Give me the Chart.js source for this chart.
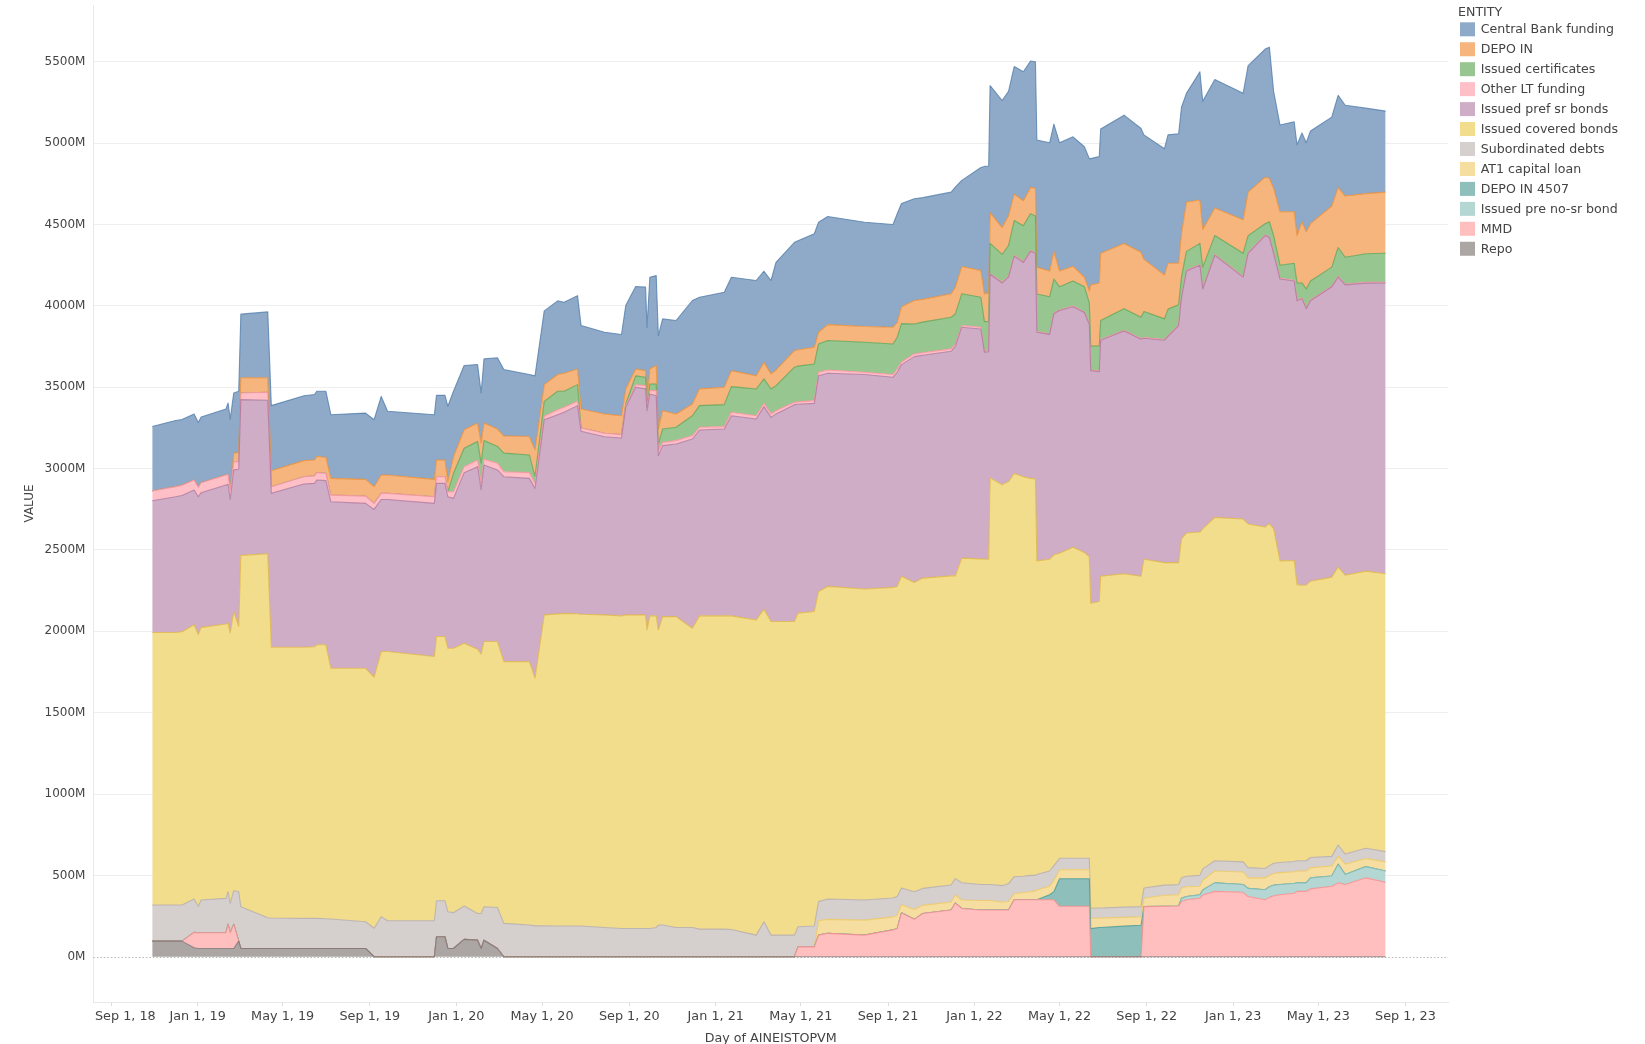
<!DOCTYPE html>
<html>
<head>
<meta charset="utf-8">
<script src="https://cdn.jsdelivr.net/npm/chart.js@4.4.1/dist/chart.umd.min.js"></script>
<style>
html,body{margin:0;padding:0;background:#fff;}
canvas{display:block;}
</style>
</head>
<body>
<canvas id="c" width="1645" height="1044"></canvas>
<script>
// ---- DATA (values in millions) ----
const dates = [
'2018-10-29','2018-12-01','2018-12-10','2018-12-27','2019-01-02','2019-01-06','2019-02-10','2019-02-13','2019-02-16','2019-02-21',
'2019-02-28','2019-03-03','2019-04-10','2019-04-15','2019-05-31','2019-06-15','2019-06-18','2019-07-01','2019-07-08','2019-08-26',
'2019-09-07','2019-09-17','2019-09-26','2019-12-01','2019-12-04','2019-12-16','2019-12-20','2019-12-28','2020-01-12','2020-01-31',
'2020-02-05','2020-02-09','2020-02-28','2020-03-08','2020-04-13','2020-04-21','2020-05-04','2020-05-23','2020-06-01','2020-06-20',
'2020-06-25','2020-07-28','2020-08-21','2020-08-27','2020-09-10','2020-09-24','2020-09-26','2020-09-30','2020-10-09','2020-10-12',
'2020-10-18','2020-11-06','2020-11-29','2020-12-09','2021-01-13','2021-01-23','2021-02-27','2021-03-10','2021-03-20','2021-03-27',
'2021-04-22','2021-04-27','2021-05-20','2021-05-26','2021-06-08','2021-07-30','2021-09-08','2021-09-14','2021-09-20','2021-10-08',
'2021-10-20','2021-11-29','2021-12-05','2021-12-14','2022-01-10','2022-01-15','2022-01-21','2022-01-23','2022-02-09','2022-02-18',
'2022-02-26','2022-03-11','2022-03-21','2022-03-28','2022-03-30','2022-04-17','2022-04-23','2022-05-01','2022-05-20','2022-06-05',
'2022-06-12','2022-06-14','2022-06-26','2022-06-28','2022-07-31','2022-08-24','2022-08-28','2022-09-26','2022-10-01','2022-10-16',
'2022-10-20','2022-10-27','2022-11-15','2022-11-19','2022-12-06','2023-01-15','2023-01-22','2023-02-15','2023-02-21','2023-02-27',
'2023-03-08','2023-03-28','2023-04-01','2023-04-08','2023-04-14','2023-04-20','2023-05-20','2023-05-29','2023-06-08','2023-07-07',
'2023-08-04'
];

const repo = [
96,96,96,55,51,51,51,51,51,51,
96,51,51,51,51,51,51,51,51,51,
0,0,0,0,123,123,51,51,107,102,
51,102,51,0,0,0,0,0,0,0,
0,0,0,0,0,0,0,0,0,0,
0,0,0,0,0,0,0,0,0,0,
0,0,0,0,0,0,0,0,0,0,
0,0,0,0,0,0,0,0,0,0,
0,0,0,0,0,0,0,0,0,0,
0,0,0,0,0,0,0,0,0,0,
0,0,0,0,0,0,0,0,0,0,
0,0,0,0,0,0,0,0,0,0,
0
];

const mmd = [
0,0,0,95,97,97,97,149,97,149,
0,0,0,0,0,0,0,0,0,0,
0,0,0,0,0,0,0,0,0,0,
0,0,0,0,0,0,0,0,0,0,
0,0,0,0,0,0,0,0,0,0,
0,0,0,0,0,0,0,0,0,0,
0,61,61,133,144,133,165,174,270,230,
266,287,330,297,287,287,287,287,287,287,
350,350,350,350,350,350,350,310,310,310,
310,0,0,0,0,0,308,310,310,312,
340,350,360,380,402,396,370,350,365,375,
381,390,402,402,402,417,433,454,444,485,
458
];

const preNoSr = [
0,0,0,0,0,0,0,0,0,0,
0,0,0,0,0,0,0,0,0,0,
0,0,0,0,0,0,0,0,0,0,
0,0,0,0,0,0,0,0,0,0,
0,0,0,0,0,0,0,0,0,0,
0,0,0,0,0,0,0,0,0,0,
0,0,0,0,0,0,0,0,0,0,
0,0,0,0,0,0,0,0,0,0,
0,0,0,0,0,0,0,0,0,0,
0,0,0,0,0,0,0,0,0,0,
20,20,21,30,52,48,50,62,65,65,
63,60,52,52,52,68,63,115,62,69,
69
];

const depoIn4507 = [
0,0,0,0,0,0,0,0,0,0,
0,0,0,0,0,0,0,0,0,0,
0,0,0,0,0,0,0,0,0,0,
0,0,0,0,0,0,0,0,0,0,
0,0,0,0,0,0,0,0,0,0,
0,0,0,0,0,0,0,0,0,0,
0,0,0,0,0,0,0,0,0,0,
0,0,0,0,0,0,0,0,0,0,
0,0,0,0,0,31,50,169,169,169,
169,173,180,180,188,194,0,0,0,0,
0,0,0,0,0,0,0,0,0,0,
0,0,0,0,0,0,0,0,0,0,
0
];

const at1 = [
0,0,0,0,0,0,0,0,0,0,
0,0,0,0,0,0,0,0,0,0,
0,0,0,0,0,0,0,0,0,0,
0,0,0,0,0,0,0,0,0,0,
0,0,0,0,0,0,0,0,0,0,
0,0,0,0,0,0,0,0,0,0,
0,0,0,88,86,92,80,82,50,60,
50,50,50,52,59,59,59,59,50,53,
37,45,50,55,60,52,70,56,56,56,
56,62,58,58,54,52,52,68,68,69,
63,60,52,60,73,77,65,73,70,72,
73,72,73,73,73,63,62,48,63,50,
56
];

const subordinated = [
222,222,222,205,162,201,211,200,180,206,
304,256,189,187,185,185,185,183,181,164,
175,246,221,221,221,221,226,220,205,164,
215,205,252,205,195,190,190,189,189,189,
189,180,174,174,174,174,174,174,180,195,
195,180,180,170,170,168,133,215,133,133,
133,123,128,118,125,124,116,114,102,110,
104,104,100,106,98,98,98,98,100,110,
105,100,100,95,95,94,90,70,70,70,
70,63,62,62,63,62,63,62,62,63,
62,65,67,70,63,62,63,57,60,63,
62,63,63,63,63,62,59,70,62,63,
63
];

const coveredBonds = [
1675,1675,1679,1685,1670,1675,1686,1650,1662,1716,
1630,2160,2237,1664,1666,1669,1681,1683,1541,1558,
1543,1630,1655,1624,1624,1624,1619,1625,1615,1624,
1594,1630,1634,1609,1619,1522,1911,1918,1921,1919,
1916,1921,1921,1927,1927,1927,1835,1921,1915,1814,
1895,1910,1839,1925,1925,1927,1937,1921,1927,1927,
1927,1928,1933,1906,1921,1911,1909,1906,1917,1900,
1907,1900,1861,1995,2001,1999,1999,2499,2463,2470,
2478,2455,2440,2437,1928,1916,1910,1875,1911,1880,
1853,1875,1883,2039,2049,2031,2020,1982,1982,1978,
2083,2109,2110,2090,2110,2107,2112,2099,2102,2056,
1854,1850,1697,1693,1695,1698,1716,1708,1714,1703,
1708
];

const prefSrBonds = [
809,834,838,828,847,828,854,853,820,870,
966,957,943,946,1003,1004,1013,1009,1023,1013,
1031,934,934,941,941,941,931,921,1048,1122,
1010,1085,1055,1136,1126,1166,1199,1224,1236,1279,
1124,1095,1093,1276,1399,1389,1347,1364,1353,1070,
1051,1061,1163,1142,1148,1230,1235,1245,1255,1276,
1333,1283,1279,1326,1310,1318,1291,1316,1300,1388,
1370,1380,1411,1419,1413,1273,1275,1251,1241,1257,
1336,1317,1395,1386,1405,1382,1482,1491,1479,1474,
1428,1429,1412,1450,1491,1456,1358,1367,1391,1457,
1481,1610,1640,1474,1611,1487,1663,1791,1758,1692,
1732,1718,1745,1761,1698,1724,1784,1782,1784,1770,
1787
];

const otherLT = [
60,62,62,62,58,61,62,62,58,51,
47,41,49,41,45,46,45,45,41,45,
37,38,38,41,41,41,31,41,37,41,
39,35,41,31,35,31,21,31,31,27,
21,21,21,10,15,20,21,20,31,31,
20,21,21,17,15,21,20,20,21,20,
14,15,17,21,20,14,17,20,16,17,
15,15,14,10,11,4,4,4,4,4,
4,4,4,4,4,4,4,4,4,4,
4,4,4,4,4,4,4,4,4,4,
4,4,4,4,4,4,4,4,4,4,
4,4,4,4,4,4,4,4,4,5,
4
];

const certificates = [
0,0,0,0,0,0,0,0,0,0,
0,0,0,0,0,0,0,0,0,0,
0,0,0,0,0,0,0,113,113,114,
124,116,103,114,109,41,92,113,98,102,
0,0,0,10,55,51,0,41,41,41,
82,82,122,133,135,158,164,150,153,154,
216,220,225,174,181,184,188,195,236,184,
188,194,185,195,184,183,183,186,171,190,
214,222,227,226,231,227,209,142,154,154,
130,147,154,117,134,131,160,127,163,124,
124,117,130,130,117,142,105,69,93,105,
81,105,105,93,117,117,117,178,166,175,
178
];

const depoIn = [
0,0,0,0,0,0,0,0,0,52,
56,93,89,98,99,98,99,99,103,103,
103,113,113,107,103,103,62,103,114,113,
123,107,107,106,113,165,103,103,111,96,
116,119,116,92,42,41,41,92,113,92,
113,82,72,103,107,98,82,102,93,96,
102,100,103,72,98,97,103,92,103,144,
140,144,164,168,164,170,175,189,165,183,
163,153,162,170,165,158,170,97,90,60,
72,376,388,413,401,400,322,269,282,255,
267,303,267,231,170,206,267,286,267,291,
328,316,291,376,352,352,376,369,376,370,
376
];

const centralBank = [
397,407,405,406,399,404,405,438,436,370,
376,391,405,400,399,402,401,405,391,407,
411,483,391,397,397,397,463,401,395,360,
309,394,438,408,381,455,453,453,436,451,
513,502,499,513,507,513,451,564,553,574,
564,574,636,563,584,574,585,560,574,662,
666,670,697,676,664,641,631,667,635,625,
625,625,615,529,633,784,780,781,781,764,
784,793,777,777,781,788,782,788,796,801,
813,776,777,764,788,760,764,777,789,796,
777,668,788,788,789,777,777,787,806,595,
534,553,558,546,547,570,546,566,558,525,
498
];

const tickDates = ['2018-09-01','2019-01-01','2019-05-01','2019-09-01','2020-01-01','2020-05-01','2020-09-01','2021-01-01','2021-05-01','2021-09-01','2022-01-01','2022-05-01','2022-09-01','2023-01-01','2023-05-01','2023-09-01'];
const tickLabels = ['Sep 1, 18','Jan 1, 19','May 1, 19','Sep 1, 19','Jan 1, 20','May 1, 20','Sep 1, 20','Jan 1, 21','May 1, 21','Sep 1, 21','Jan 1, 22','May 1, 22','Sep 1, 22','Jan 1, 23','May 1, 23','Sep 1, 23'];
const yTickValues = [0,500,1000,1500,2000,2500,3000,3500,4000,4500,5000,5500];

// ---- series definitions (bottom of stack first) ----
const seriesDefs = [
  {label:'Repo',                  data:repo,         fill:'#ABA5A3', line:'rgba(121,112,110,0.75)'},
  {label:'MMD',                   data:mmd,          fill:'#FFBFBF', line:'rgba(245,140,138,0.8)'},
  {label:'Issued pre no-sr bond', data:preNoSr,      fill:'#B5D7D4', line:'rgba(134,188,182,0.9)'},
  {label:'DEPO IN 4507',          data:depoIn4507,   fill:'#8FBFBB', line:'rgba(73,152,148,0.8)'},
  {label:'AT1 capital loan',      data:at1,          fill:'#F5DEA0', line:'rgba(236,200,100,0.85)'},
  {label:'Subordinated debts',    data:subordinated, fill:'#D5CFCD', line:'rgba(186,176,172,0.9)'},
  {label:'Issued covered bonds',  data:coveredBonds, fill:'#F2DD8D', line:'rgba(222,180,70,0.8)'},
  {label:'Issued pref sr bonds',  data:prefSrBonds,  fill:'#CFADC6', line:'rgba(170,115,155,0.75)'},
  {label:'Other LT funding',      data:otherLT,      fill:'#FFBFC6', line:'rgba(250,150,162,0.9)'},
  {label:'Issued certificates',   data:certificates, fill:'#98C690', line:'rgba(89,161,79,0.75)'},
  {label:'DEPO IN',               data:depoIn,       fill:'#F5B57C', line:'rgba(235,135,40,0.7)'},
  {label:'Central Bank funding',  data:centralBank,  fill:'#8FAAC9', line:'rgba(78,121,167,0.75)'}
];

const FONT = 'DejaVu Sans';

const datasets = seriesDefs.map((s, k) => ({
  label: s.label,
  data: s.data.map((v, i) => ({x: Date.parse(dates[i]), y: v})),
  backgroundColor: s.fill,
  borderColor: s.line,
  borderWidth: 1.1,
  pointRadius: 0,
  pointHoverRadius: 0,
  tension: 0,
  fill: k === 0 ? 'origin' : '-1'
}));

const zeroLinePlugin = {
  id: 'zeroLine',
  beforeDatasetsDraw(chart) {
    const {ctx, chartArea} = chart;
    const y = chart.scales.y.getPixelForValue(0);
    ctx.save();
    ctx.strokeStyle = '#b8b8b8';
    ctx.lineWidth = 1;
    ctx.setLineDash([1.5, 2]);
    ctx.beginPath();
    ctx.moveTo(chartArea.left, Math.round(y) + 0.5);
    ctx.lineTo(chartArea.right, Math.round(y) + 0.5);
    ctx.stroke();
    ctx.restore();
  }
};

const entityLegend = {
  id: 'entityLegend',
  afterDraw(chart) {
    const {ctx, chartArea} = chart;
    const x0 = chartArea.right + 10;
    ctx.save();
    ctx.font = '12.6px "' + FONT + '"';
    ctx.textBaseline = 'middle';
    ctx.textAlign = 'left';
    ctx.fillStyle = '#444';
    ctx.fillText('ENTITY', x0, 12.7);
    const list = chart.data.datasets.slice().reverse();
    list.forEach((d, i) => {
      const cy = 29.3 + i * 19.95;
      ctx.fillStyle = d.backgroundColor;
      ctx.fillRect(x0 + 2, cy - 7, 15, 14);
      ctx.fillStyle = '#444';
      ctx.fillText(d.label, x0 + 22.7, cy + 0.5);
    });
    ctx.restore();
  }
};

new Chart(document.getElementById('c'), {
  type: 'line',
  data: { datasets },
  options: {
    responsive: false,
    animation: false,
    events: [],
    layout: { padding: { left: 0, right: 197, top: 5, bottom: 0 } },
    plugins: { legend: { display: false }, tooltip: { enabled: false } },
    elements: { line: { borderJoinStyle: 'round' } },
    scales: {
      x: {
        type: 'linear',
        min: Date.parse('2018-08-07'),
        max: Date.parse('2023-10-31'),
        afterBuildTicks: (s) => { s.ticks = tickDates.map(d => ({ value: Date.parse(d) })); },
        afterFit: (s) => { s.height = 42; s.paddingLeft = 0; s.paddingRight = 0; },
        ticks: {
          autoSkip: false, maxRotation: 0, minRotation: 0, padding: 3,
          color: '#444', font: { family: FONT, size: 12.8 },
          callback: (v) => {
            const i = tickDates.findIndex(d => Date.parse(d) === v);
            if (i < 0) return '';
            // first label is pushed right so it stays inside the plot edge (as in the original)
            return i === 0 ? '       ' + tickLabels[i] : tickLabels[i];
          }
        },
        grid: { display: true, drawOnChartArea: false, drawTicks: true, tickLength: 4, color: '#dddddd' },
        border: { display: true, color: '#e8e8e8' },
        title: { display: true, text: 'Day of AINEISTOPVM', color: '#444', font: { family: FONT, size: 12.7 }, padding: { top: 0, bottom: -2 } }
      },
      y: {
        stacked: true,
        min: -278,
        max: 5849,
        afterBuildTicks: (s) => { s.ticks = yTickValues.map(v => ({ value: v })); },
        afterFit: (s) => { s.width = 93.4; s.paddingTop = 0; s.paddingBottom = 0; },
        ticks: {
          padding: 8, color: '#444', font: { family: FONT, size: 12 },
          callback: (v) => v + 'M'
        },
        grid: {
          drawTicks: false,
          color: (c) => (c.tick && c.tick.value === 0) ? 'rgba(0,0,0,0)' : '#eeeeee'
        },
        border: { display: true, color: '#e8e8e8' },
        title: { display: true, text: 'VALUE', color: '#444', font: { family: FONT, size: 12 }, padding: { top: 23, bottom: 0 } }
      }
    }
  },
  plugins: [zeroLinePlugin, entityLegend]
});
</script>
</body>
</html>
